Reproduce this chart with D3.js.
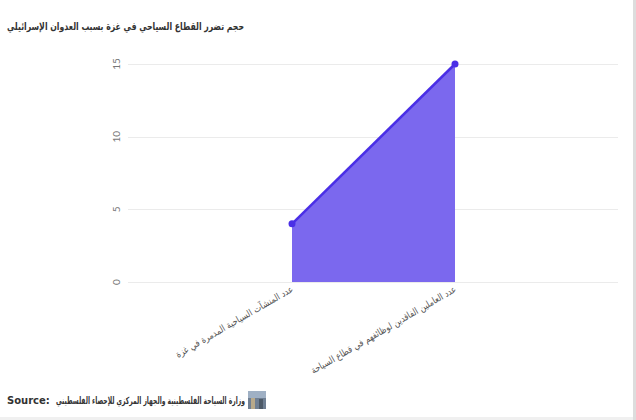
<!DOCTYPE html>
<html>
<head>
<meta charset="utf-8">
<script src="https://cdn.jsdelivr.net/npm/d3@7"></script>
<style>
  body { margin: 0; background: #fff; }
  svg { display: block; }
</style>
</head>
<body>
<svg id="chart" width="636" height="420"></svg>
<script>
// بيانات الرسم
const titleText = 'حجم تضرر القطاع السياحي في غزة بسبب العدوان الإسرائيلي';
const categories = [
    'عدد المنشآت السياحية المدمرة في غزة',
    'عدد العاملين الفاقدين لوظائفهم في قطاع السياحة'
];
const values = [4, 15];
const yTicks = [0, 5, 10, 15];
const sourceText = 'وزارة السياحة الفلسطينية والجهاز المركزي للإحصاء الفلسطيني';

const arabicFont = '"DejaVu Sans", sans-serif';
// rendered widths of the rotated labels in the reference
const labelWidths = [134, 166];

const svg = d3.select('#chart');

// frame edges like the reference
svg.append('rect').attr('x', 633).attr('y', 0).attr('width', 3).attr('height', 420).attr('fill', '#ddd');
svg.append('rect').attr('x', 0).attr('y', 417).attr('width', 633).attr('height', 3).attr('fill', '#f0f0f0');

const x = d3.scalePoint().domain(categories).range([129, 618]).padding(1);
const y = d3.scaleLinear().domain([0, 15]).range([282, 64]);

// title
svg.append('text')
    .attr('x', 7)
    .attr('y', 30)
    .attr('font-family', arabicFont)
    .attr('font-size', 10.5)
    .attr('font-weight', 'bold')
    .attr('fill', '#333')
    .attr('direction', 'rtl')
    .attr('text-anchor', 'end')
    .attr('textLength', 237)
    .attr('lengthAdjust', 'spacingAndGlyphs')
    .text(titleText);

// gridlines
svg.append('g').selectAll('line')
    .data(yTicks)
    .enter()
    .append('line')
    .attr('x1', 128)
    .attr('x2', 618)
    .attr('y1', d => Math.round(y(d)) + 0.5)
    .attr('y2', d => Math.round(y(d)) + 0.5)
    .attr('stroke', '#ebebeb')
    .attr('stroke-width', 1);

// y tick labels (rotated)
svg.append('g').selectAll('text')
    .data(yTicks)
    .enter()
    .append('text')
    .attr('transform', d => `translate(120,${y(d)}) rotate(-90)`)
    .attr('text-anchor', 'middle')
    .attr('font-family', 'Lato, sans-serif')
    .attr('font-size', 10)
    .attr('fill', '#777')
    .text(d => d);

// area
const area = d3.area()
    .x((d, i) => x(categories[i]))
    .y0(y(0))
    .y1(d => y(d));

svg.append('path')
    .datum(values)
    .attr('d', area)
    .attr('fill', '#7b68ee');

const line = d3.line()
    .x((d, i) => x(categories[i]))
    .y(d => y(d));

svg.append('path')
    .datum(values)
    .attr('d', line)
    .attr('fill', 'none')
    .attr('stroke', '#4a2fe6')
    .attr('stroke-width', 2.5);

svg.append('g').selectAll('circle')
    .data(values)
    .enter()
    .append('circle')
    .attr('cx', (d, i) => x(categories[i]))
    .attr('cy', d => y(d))
    .attr('r', 3.5)
    .attr('fill', '#4a2fe6');

// x labels, rotated
svg.append('g').selectAll('text')
    .data(categories)
    .enter()
    .append('text')
    .attr('transform', d => `translate(${x(d) + 2},${y(0) + 9}) rotate(-30)`)
    .attr('direction', 'rtl')
    .attr('text-anchor', 'start')
    .attr('font-family', arabicFont)
    .attr('font-size', 9.5)
    .attr('fill', '#555')
    .attr('textLength', (d, i) => labelWidths[i])
    .attr('lengthAdjust', 'spacingAndGlyphs')
    .text(d => d);

// source line
svg.append('text')
    .attr('x', 7)
    .attr('y', 404)
    .attr('font-family', '"DejaVu Sans", sans-serif')
    .attr('font-size', 10)
    .attr('font-weight', 'bold')
    .attr('fill', '#333')
    .text('Source:');

svg.append('text')
    .attr('x', 56)
    .attr('y', 404)
    .attr('font-family', arabicFont)
    .attr('font-size', 10)
    .attr('font-weight', 'bold')
    .attr('fill', '#333')
    .attr('direction', 'rtl')
    .attr('text-anchor', 'end')
    .attr('textLength', 189)
    .attr('lengthAdjust', 'spacingAndGlyphs')
    .text(sourceText);

// small logo thumbnail
const logo = svg.append('g').attr('transform', 'translate(248,391)');
logo.append('rect').attr('width', 18).attr('height', 18).attr('fill', '#6f7f93');
logo.append('rect').attr('y', 0).attr('width', 18).attr('height', 7).attr('fill', '#9fb0c4');
logo.append('rect').attr('x', 3).attr('y', 7).attr('width', 4).attr('height', 11).attr('fill', '#b8a98a');
logo.append('rect').attr('x', 11).attr('y', 8).attr('width', 4).attr('height', 10).attr('fill', '#4d5a68');
</script>
</body>
</html>
